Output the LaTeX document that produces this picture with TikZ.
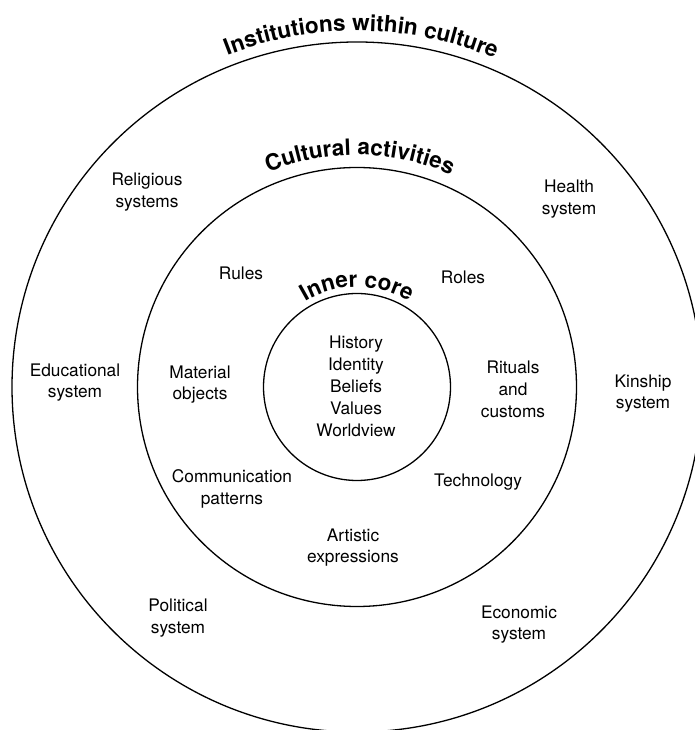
\documentclass[tikz,border=0pt]{standalone}
\usepackage{fontspec}
\setmainfont{TeX Gyre Heros}
\usetikzlibrary{decorations.text}
\newcommand\ttlfont{\fontsize{22.5}{27}\selectfont\bfseries}
\begin{document}
\begin{tikzpicture}[x=1pt,y=1pt,
  ring/.style={circle, draw, line width=1.3pt, inner sep=0pt},
  lbl/.style={align=center, inner sep=0pt, font=\fontsize{17.3}{21.8}\selectfont},
  arctitle/.style={decorate, decoration={text along path, text align=center, text={#1}}}
]
\useasboundingbox (0,0) rectangle (694,730);
\coordinate (c) at (357,343);
\node[ring, minimum size=690pt] (outer) at (c) {};
\node[ring, minimum size=439pt] (middle) at (c) {};
\node[ring, minimum size=187pt] (inner) at (c) {};

\path[arctitle={|\ttlfont|Institutions within culture}, shift={(357,343)}]
  (149.3:356) arc[start angle=149.3, end angle=29.3, radius=356];
\path[arctitle={|\ttlfont|Cultural activities}, shift={(357,343)}]
  (149.3:232) arc[start angle=149.3, end angle=29.3, radius=232];
\path[arctitle={|\ttlfont|Inner core}, shift={(357,343)}]
  (160:100) arc[start angle=160, end angle=20, radius=100];

\node[lbl] (religious) at (147,538) {Religious\\systems};
\node[lbl] (health) at (569,531) {Health\\system};
\node[lbl, anchor=base] (rules) at (241,450) {Rules};
\node[lbl, anchor=base] (roles) at (463,446) {Roles};
\node[lbl] (educ) at (75,347.4) {Educational\\system};
\node[lbl] (material) at (200,345.4) {Material\\objects};
\node[lbl, font=\fontsize{17.3}{22}\selectfont] (core) at (356,343.2) {History\\Identity\\Beliefs\\Values\\Worldview};
\node[lbl] (rituals) at (513,340.8) {Rituals\\and\\customs};
\node[lbl] (kinship) at (643,336.4) {Kinship\\system};
\node[lbl] (comm) at (232,241.4) {Communication\\patterns};
\node[lbl, anchor=base] (tech) at (478,243) {Technology};
\node[lbl] (artistic) at (353,182.4) {Artistic\\expressions};
\node[lbl] (political) at (178,112) {Political\\system};
\node[lbl] (economic) at (519,105.4) {Economic\\system};
\end{tikzpicture}
\end{document}
